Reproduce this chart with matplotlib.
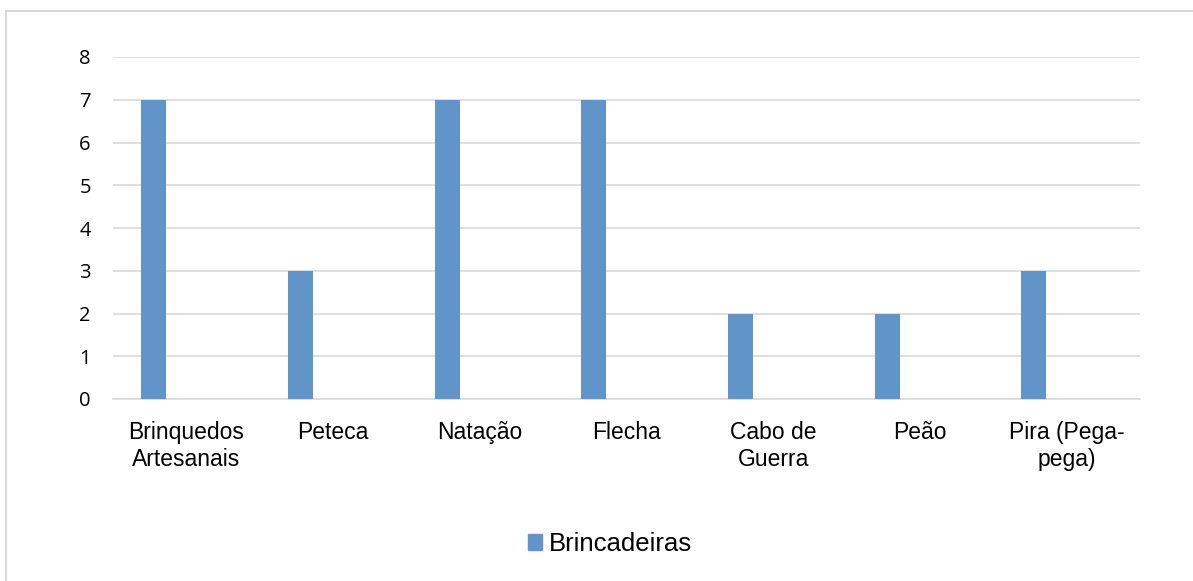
import numpy as np
import matplotlib.pyplot as plt
from matplotlib.lines import Line2D

categorias = ['Brinquedos\nArtesanais', 'Peteca', 'Natação', 'Flecha',
              'Cabo de\nGuerra', 'Peão', 'Pira (Pega-\npega)']
brincadeiras = [7, 3, 7, 7, 2, 2, 3]
serie = 'Brincadeiras'

cor_barra = '#6195C9'
cor_grade = '#D9D9D9'

fig = plt.figure(figsize=(11.93, 5.81), dpi=100)
ax = fig.add_axes([113/1193, 1 - 399/581, (1140-113)/1193, (399-57)/581])

x = np.arange(len(categorias))
ax.bar(x - 0.223, brincadeiras, width=0.17, color=cor_barra, zorder=3)

ax.set_xlim(-0.5, len(categorias) - 0.5)
ax.set_ylim(0, 8)
ax.set_yticks(range(0, 9))
ax.yaxis.grid(True, color=cor_grade, linewidth=1.2, zorder=0)
ax.set_xticks(x)
ax.set_xticklabels(categorias, fontsize=16.5, family='Liberation Sans', linespacing=1.2)
for lbl in ax.get_yticklabels():
    lbl.set_fontsize(14.5)
    lbl.set_family('Open Sans')
ax.tick_params(axis='both', length=0)
ax.tick_params(axis='y', pad=16)
ax.tick_params(axis='x', pad=16)
for s in ['top', 'right', 'left']:
    ax.spines[s].set_visible(False)
ax.spines['bottom'].set_color(cor_grade)
ax.spines['bottom'].set_linewidth(1.2)

# legenda
fig.legend(handles=[plt.Rectangle((0, 0), 1, 1, color=cor_barra)], labels=[serie],
           loc='center', bbox_to_anchor=(610/1193, 1 - 544/581), frameon=False,
           prop={'family': 'Liberation Sans', 'size': 18.5},
           handlelength=0.55, handleheight=0.55, handletextpad=0.25)

# moldura do grafico
fig.add_artist(Line2D([6/1193, 6/1193], [0, 1 - 11/581], color=cor_grade, linewidth=1.5))
fig.add_artist(Line2D([6/1193, 1], [1 - 11/581, 1 - 11/581], color=cor_grade, linewidth=1.5))

fig.savefig('out.png', dpi=100)
